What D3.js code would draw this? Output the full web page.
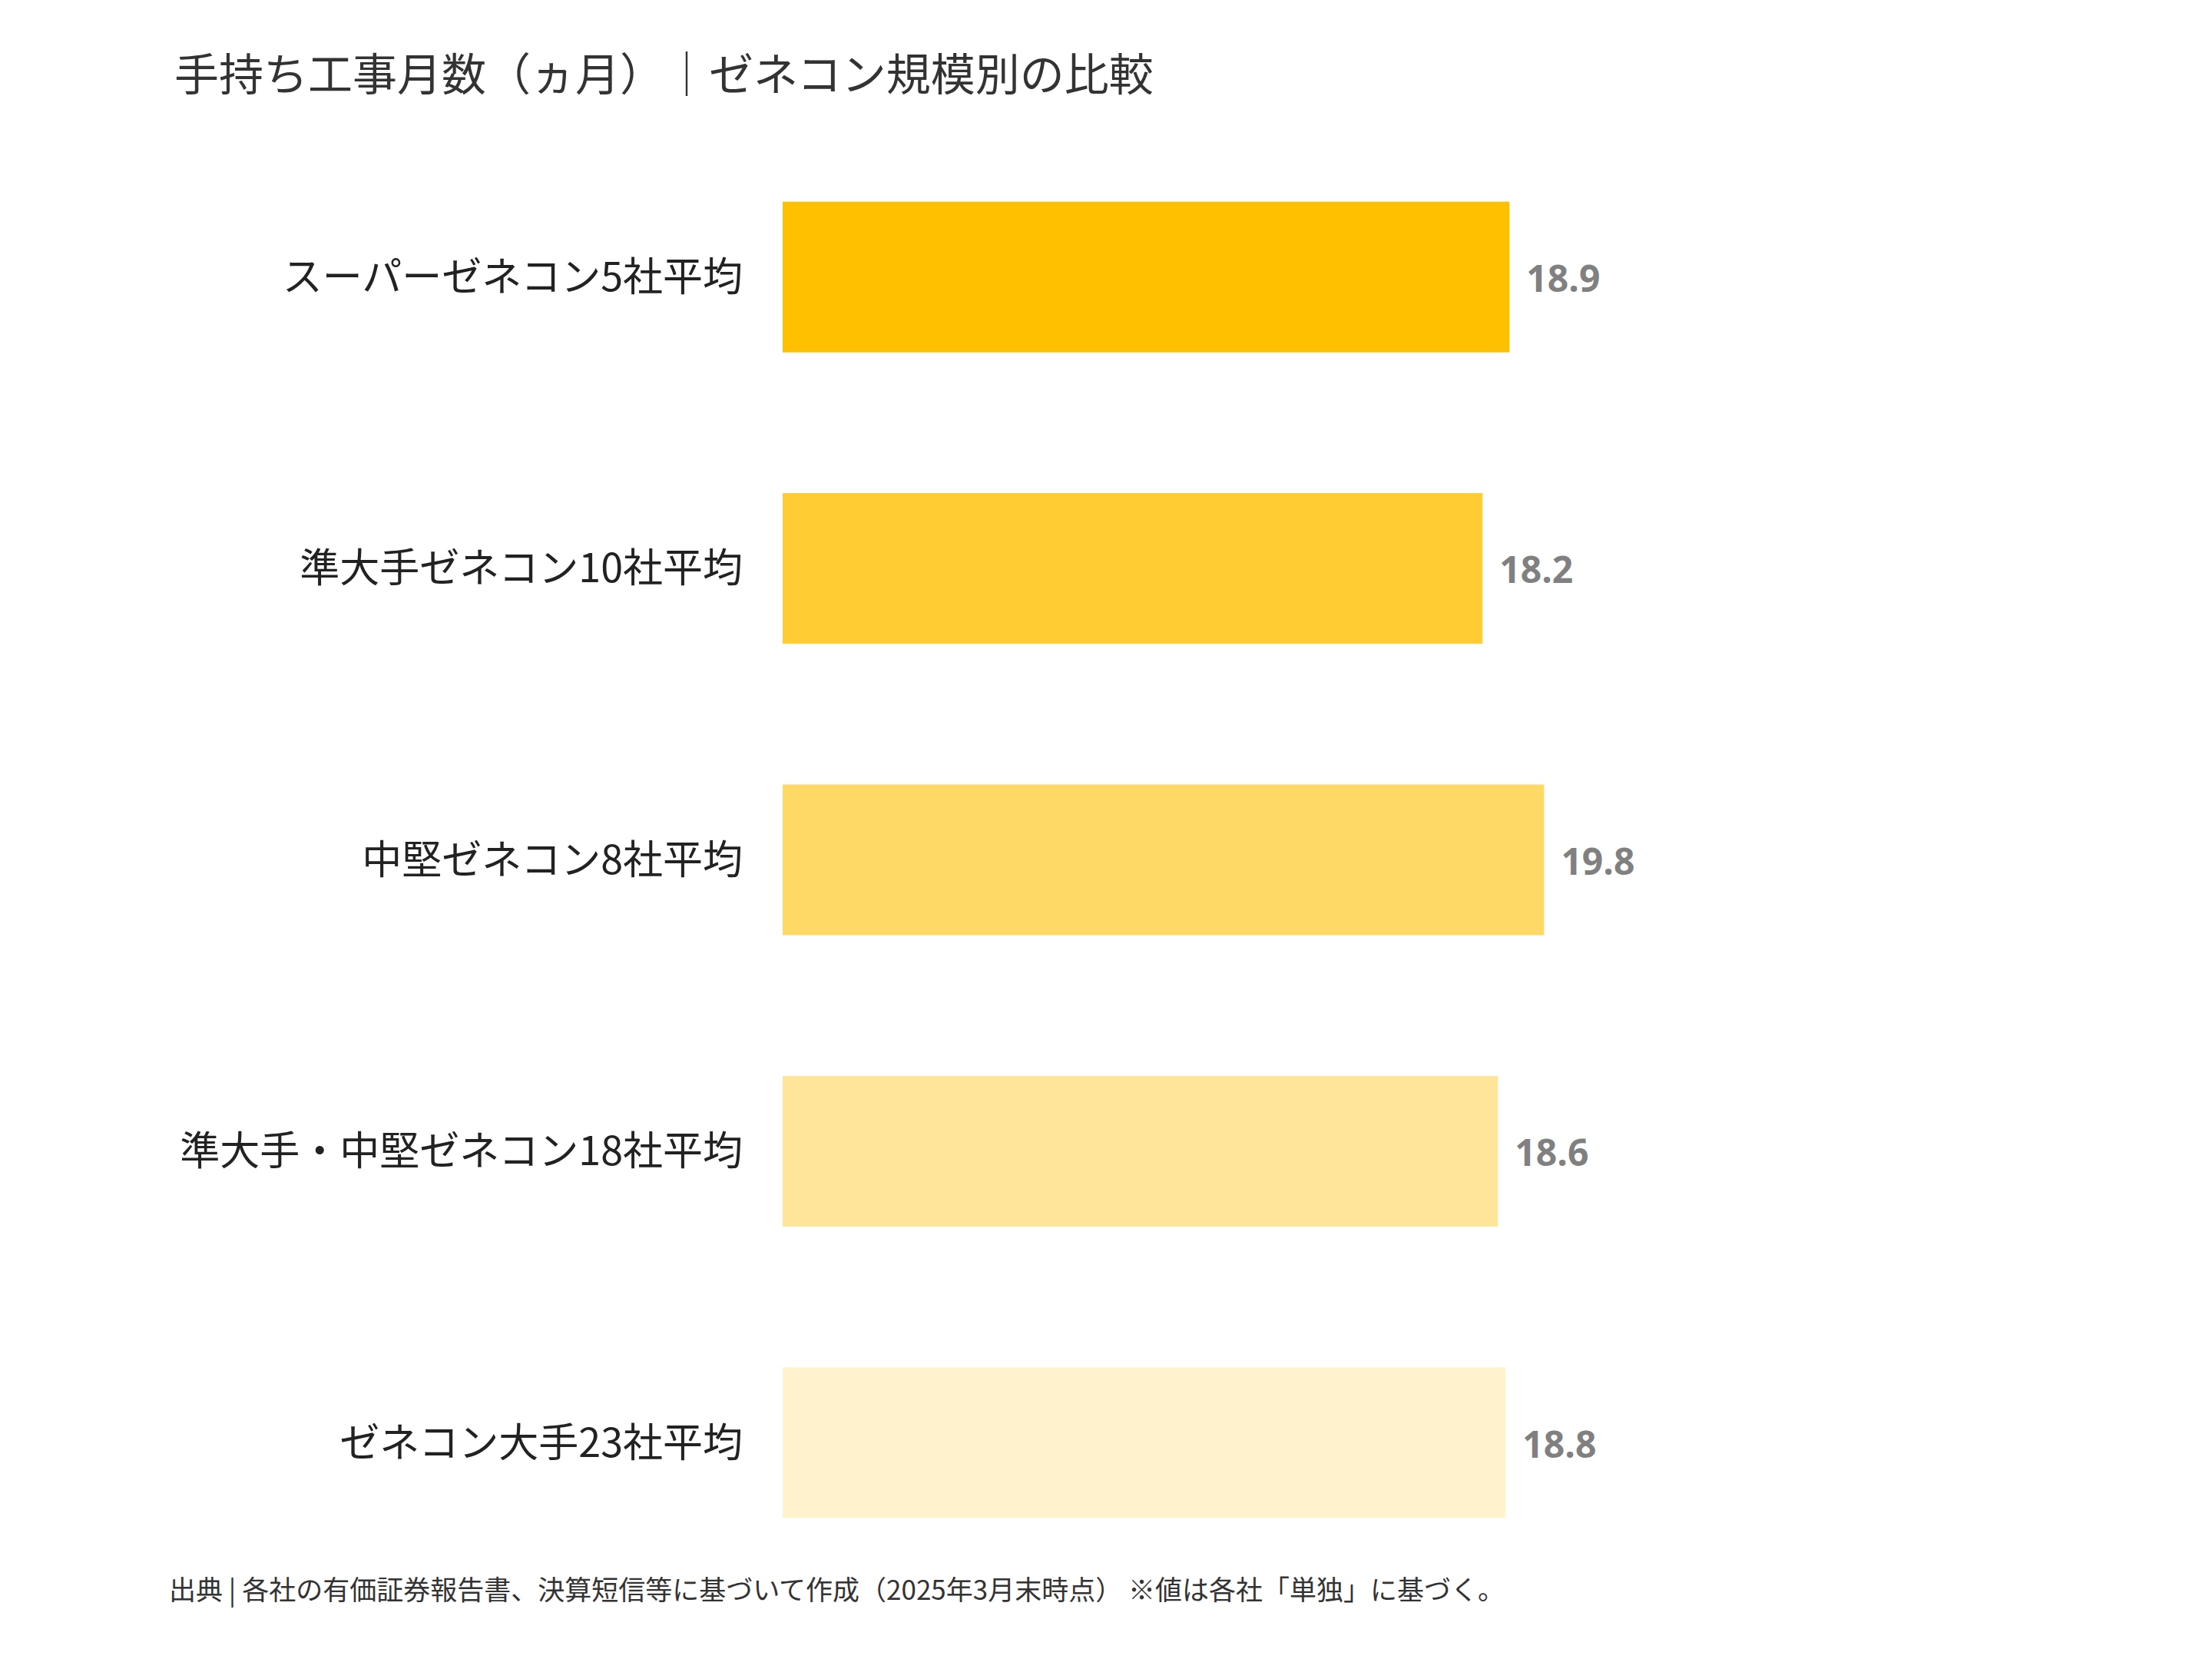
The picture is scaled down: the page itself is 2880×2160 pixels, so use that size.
<!DOCTYPE html>
<html><head><meta charset="utf-8">
<script src="https://cdn.jsdelivr.net/npm/d3@7"></script>
<style>body{margin:0;background:#fff}</style></head>
<body><svg id="c" width="2880" height="2160"></svg>
<script>
const categories = ["スーパーゼネコン5社平均","準大手ゼネコン10社平均","中堅ゼネコン8社平均","準大手・中堅ゼネコン18社平均","ゼネコン大手23社平均"];
const values = [18.9, 18.2, 19.8, 18.6, 18.8];
const colors = ["#FFC000","#FFCC33","#FFD966","#FFE599","#FFF2CC"];
const title = "手持ち工事月数（ヵ月）｜ゼネコン規模別の比較";
const source = "出典 | 各社の有価証券報告書、決算短信等に基づいて作成（2025年3月末時点） ※値は各社「単独」に基づく。";

const svg = d3.select("#c");
const font = "'Noto Sans CJK JP', sans-serif";
const x = d3.scaleLinear().domain([0, 20]).range([1019, 1019 + 50.07*20]);
const y = d3.scaleBand().domain(categories).range([171, 2068]).paddingInner(0.483).paddingOuter(0.2415);

svg.append("text").attr("x",227).attr("y",118).attr("font-family",font).attr("font-size",58).attr("fill","#333").text(title);

svg.selectAll("rect.bar").data(categories).join("rect").attr("class","bar")
  .attr("x",x(0)).attr("y",d=>y(d)).attr("height",y.bandwidth())
  .attr("width",(d,i)=>x(values[i])-x(0)).attr("fill",(d,i)=>colors[i]);

svg.selectAll("text.lab").data(categories).join("text").attr("class","lab")
  .attr("x",967).attr("y",d=>y(d)+y.bandwidth()/2).attr("dy","0.35em")
  .attr("text-anchor","end").attr("font-family",font).attr("font-size",52).attr("fill","#222").text(d=>d);

svg.selectAll("text.val").data(categories).join("text").attr("class","val")
  .attr("x",(d,i)=>x(values[i])+22).attr("y",d=>y(d)+y.bandwidth()/2).attr("dy","0.4em")
  .attr("font-family","'Open Sans', sans-serif").attr("font-weight","bold").attr("font-size",48)
  .attr("fill","#808080").text((d,i)=>values[i].toFixed(1));

svg.append("text").attr("x",220).attr("y",2083).attr("font-family",font).attr("font-size",35).attr("fill","#333").text(source);
</script></body></html>
